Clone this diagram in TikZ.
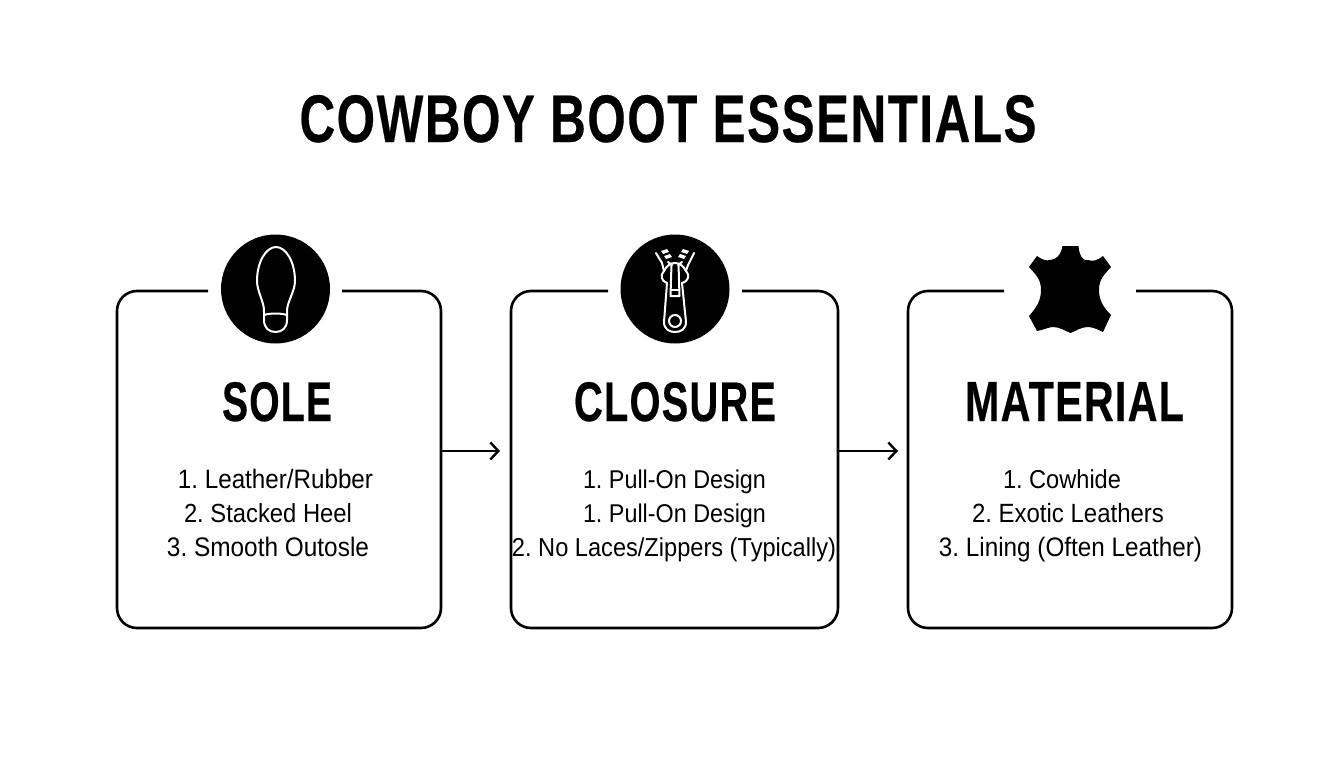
\documentclass[tikz,border=0pt]{standalone}
\usepackage{fontspec}
\setmainfont{Liberation Sans}
\usepackage{graphicx}
\usetikzlibrary{arrows.meta}
\frenchspacing
\tikzset{
  card/.style={draw=none,minimum width=#1,minimum height=337pt,inner sep=0pt},
  cardline/.style={draw=black,line width=2.6pt,line cap=butt,rounded corners=20pt},
  flowarrow/.style={draw=black,line width=2.2pt,-{Straight Barb[length=8pt,width=17pt,line width=2.4pt]}},
  badge/.style={circle,fill=black,draw=none,minimum size=109pt,inner sep=0pt},
  iconline/.style={draw=white,line width=2pt,line join=round,line cap=round},
  lbl/.style={anchor=base,inner sep=0pt,text=black},
  head/.style={anchor=base,inner sep=0pt,text=black}
}
\newcommand{\fitw}[2]{\scalebox{1}[1.1]{\resizebox{#1pt}{!}{\fontsize{25pt}{30pt}\selectfont #2}}}
\newcommand{\fitb}[3]{\resizebox{#1pt}{#2pt}{\fontsize{40pt}{44pt}\selectfont\bfseries\addfontfeature{LetterSpace=3,FakeBold=0.4}#3}}
\begin{document}
\begin{tikzpicture}[x=1pt,y=-1pt]
\useasboundingbox (0,0) rectangle (1344,768);
\fill[white] (0,0) rectangle (1344,768);
\node[head] (title) at (668,142) {\fitb{737}{47}{COWBOY BOOT ESSENTIALS}};

% cards
\node[card=324pt] (c1) at (279,459.5) {};
\node[card=327pt] (c2) at (674.5,459.5) {};
\node[card=324pt] (c3) at (1070,459.5) {};
\draw[cardline] (208,291) -- (117,291) -- (117,628) -- (441,628) -- (441,291) -- (342,291);
\draw[cardline] (608,291) -- (511,291) -- (511,628) -- (838,628) -- (838,291) -- (742,291);
\draw[cardline] (1004,291) -- (908,291) -- (908,628) -- (1232,628) -- (1232,291) -- (1136,291);

% badges
\node[badge] (b1) at (275.5,289) {};
\node[badge] (b2) at (675,289) {};

% sole icon
\draw[iconline] (264,313) .. controls (265,303) and (257,292) .. (257,281) .. controls (257,262) and (266,247) .. (276,247) .. controls (286,247) and (295,262) .. (295,281) .. controls (295,292) and (286,303) .. (287,313) -- (287,320) .. controls (287,328) and (282,332) .. (275.5,332) .. controls (269,332) and (264,328) .. (264,320) -- cycle;
\draw[iconline] (264,315) .. controls (270,313) and (281,313) .. (287,315);

% zipper icon
\draw[iconline] (667,283) -- (664,322) .. controls (664,329) and (669,332) .. (675,332) .. controls (681,332) and (686,329) .. (686,322) -- (682,283);
\draw[iconline] (675,321) circle[radius=6];
\draw[iconline] (667,283) .. controls (661,281) and (660,275) .. (664,271) .. controls (667,265) and (671,263) .. (675,263) .. controls (679,263) and (683,265) .. (686,271) .. controls (690,275) and (689,281) .. (682,283);
\draw[iconline] (671.5,264) -- (670.5,296) -- (679.5,296) -- (678.5,264);
\draw[iconline] (671,290) -- (679,290);
\draw[iconline] (656,253) -- (662,263) -- (664,271);
\draw[iconline] (694,253) -- (688,265) -- (686,271);
\draw[iconline] (668,262) -- (672,265);
\draw[iconline] (682,262) -- (678,265);
\fill[white] (661,251) -- (667,249) -- (669,252) -- (663,254) -- cycle (664,256) -- (670,254) -- (672,257) -- (666,259) -- cycle;
\fill[white] (689,251) -- (683,249) -- (681,252) -- (687,254) -- cycle (686,256) -- (680,254) -- (678,257) -- (684,259) -- cycle;

% leather icon
\node[inner sep=0pt,minimum size=0pt] (b3) at (1070,289) {};
\fill[black] (1062.5,246) -- (1078.5,246) .. controls (1079,256) and (1084,262) .. (1088,260) .. controls (1093,262) and (1098,260) .. (1103,256) -- (1111,267) .. controls (1104,275) and (1099,279) .. (1099,290) .. controls (1099,301) and (1104,308) .. (1111,315) -- (1103,332) .. controls (1097,329) and (1092,327) .. (1088,327) .. controls (1081,327) and (1076,331) .. (1070.5,333) .. controls (1065,331) and (1060,327) .. (1053,327) .. controls (1049,327) and (1043,330) .. (1037,331) -- (1029,316) .. controls (1036,308) and (1041,301) .. (1041,290) .. controls (1041,279) and (1036,275) .. (1029,267) -- (1037,256) .. controls (1042,260) and (1047,261) .. (1050,260) .. controls (1056,260) and (1061,255) .. (1062.5,246) -- cycle;

% headings
\node[head] (h1) at (277,421) {\fitb{110}{39}{SOLE}};
\node[head] (h2) at (675,421) {\fitb{202}{39}{CLOSURE}};
\node[head] (h3) at (1074.5,421) {\fitb{219}{39}{MATERIAL}};

% labels
\node[lbl] (l11) at (275.5,488) {\fitw{195}{1. Leather/Rubber}};
\node[lbl] (l12) at (268,522) {\fitw{168}{2. Stacked Heel}};
\node[lbl] (l13) at (268,556) {\fitw{202}{3. Smooth Outosle}};
\node[lbl] (l21) at (674.5,488) {\fitw{183}{1. Pull-On Design}};
\node[lbl] (l22) at (674.5,522) {\fitw{183}{1. Pull-On Design}};
\node[lbl] (l23) at (674,556) {\fitw{324}{2. No Laces/Zippers (Typically)}};
\node[lbl] (l31) at (1062,488) {\fitw{118}{1. Cowhide}};
\node[lbl] (l32) at (1068,522) {\fitw{192}{2. Exotic Leathers}};
\node[lbl] (l33) at (1070.5,556) {\fitw{263}{3. Lining (Often Leather)}};

% connectors
\coordinate (a1s) at (c1.east |- 0,451);
\coordinate (a1e) at (500,451);
\coordinate (a2s) at (c2.east |- 0,451);
\coordinate (a2e) at (898,451);
\draw[flowarrow] (a1s) -- (a1e);
\draw[flowarrow] (a2s) -- (a2e);
\end{tikzpicture}
\end{document}
